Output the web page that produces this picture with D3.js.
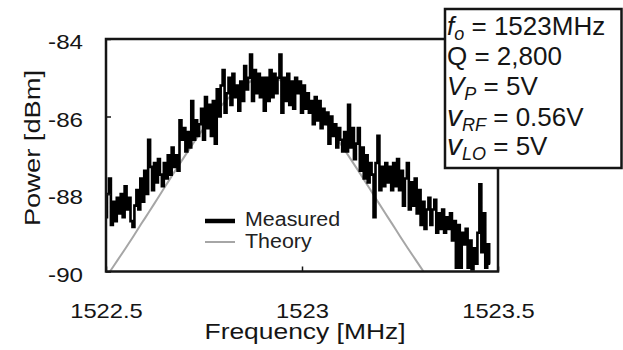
<!DOCTYPE html>
<html>
<head>
<meta charset="utf-8">
<script src="https://cdn.jsdelivr.net/npm/d3@7"></script>
<style>
  html, body { margin: 0; padding: 0; background: #fff; }
  svg { display: block; font-family: "Liberation Sans", Arial, Helvetica, sans-serif; }
</style>
</head>
<body>
<svg id="chart" width="623" height="350"></svg>
<script>
// ---------------- data ----------------
const xTicks = [1522.5, 1523, 1523.5];
const xTickLabels = ["1522.5", "1523", "1523.5"];
const yTicks = [-90, -88, -86, -84];
const yTickLabels = ["-90", "-88", "-86", "-84"];

const measuredStart = 1522.5;   // MHz, first sample
const measuredStep = 0.005;     // MHz between samples
const measuredPower = [
  -88.6, -88.0, -87.6, -88.8, -88.2,
  -88.7, -88.1, -88.5,
  -88.0, -88.6, -87.8, -88.4, -88.1,
  -88.7, -88.85, -88.3,
  -87.9, -88.4, -87.6, -88.2,
  -87.4, -88.0, -86.6, -87.3, -87.9,
  -87.2, -87.7, -87.1, -87.5, -87.8, -87.2, -87.6,
  -87.0, -87.5, -86.8, -87.3, -87.0, -87.4, -86.1,
  -86.6, -86.3, -86.9, -86.4, -86.8, -85.6,
  -86.6, -86.1, -86.5, -86.2,
  -85.8, -86.6, -85.5, -86.3, -85.7,
  -86.5, -85.6, -86.7,
  -85.3, -86.0, -85.2, -84.8, -85.9, -85.4,
  -85.0, -85.7, -84.9, -85.5, -85.2,
  -85.85, -85.1,
  -85.6, -84.7, -85.3, -85.0, -84.4,
  -85.6, -84.8, -85.4, -84.9, -85.5, -85.0,
  -85.85, -85.0,
  -85.6, -84.8, -85.5, -84.9,
  -85.4, -85.0, -84.4,
  -85.9, -85.0, -85.6, -84.9, -85.7, -85.1, -85.8,
  -85.0, -85.4, -85.1,
  -85.9, -85.2, -85.8, -85.4, -85.9,
  -85.6, -86.2, -85.5, -86.1, -85.6, -86.3, -85.8, -86.2, -85.9,
  -86.7, -86.0, -86.5, -86.2, -86.8, -86.3, -86.6,
  -86.9, -86.4, -86.9, -85.7, -86.8, -86.3,
  -87.1, -86.7, -86.3, -87.4, -86.8, -87.6, -87.0, -87.7, -87.2,
  -87.5, -88.6, -87.2, -86.5, -87.9,
  -87.3, -87.8, -87.2, -87.7, -87.3,
  -87.9, -87.2, -87.8, -87.1, -87.9, -87.4,
  -88.3, -87.6, -87.2, -88.4, -87.7, -88.3, -87.6,
  -88.5, -87.9,
  -88.8, -88.2, -88.9, -88.4, -88.1, -88.8,
  -88.4, -88.15, -89.0, -88.5, -88.9, -88.4, -89.0, -88.6, -88.9, -88.5,
  -89.2, -88.7, -89.9, -88.8, -89.9, -89.0, -89.3,
  -88.9, -89.9, -89.2, -89.95, -89.4, -89.8,
  -89.0, -87.75, -89.5, -88.5,
  -89.9, -89.3, -89.8
];

const theoryFreq = [
  1522.51, 1522.53, 1522.55, 1522.57, 1522.59, 1522.61, 1522.63, 1522.65, 1522.67, 1522.69,
  1522.71, 1522.73, 1522.75, 1522.77, 1522.79, 1522.81, 1522.83, 1522.85, 1522.87, 1522.89,
  1522.91, 1522.93, 1522.95, 1522.97, 1522.99, 1523.01, 1523.03, 1523.05, 1523.07, 1523.09,
  1523.11, 1523.13, 1523.15, 1523.17, 1523.19, 1523.21, 1523.23, 1523.25, 1523.27, 1523.29,
  1523.31
];
const theoryPower = [
  -90.00, -89.70, -89.40, -89.09, -88.77, -88.46, -88.14, -87.82, -87.50, -87.19,
  -86.88, -86.58, -86.29, -86.02, -85.77, -85.55, -85.36, -85.21, -85.09, -85.02,
  -85.00, -85.02, -85.09, -85.21, -85.36, -85.55, -85.77, -86.02, -86.29, -86.58,
  -86.88, -87.19, -87.50, -87.82, -88.14, -88.46, -88.77, -89.09, -89.40, -89.70,
  -90.00
];

const legendLabels = ["Measured", "Theory"];
const xLabel = "Frequency [MHz]";
const yLabel = "Power [dBm]";
// annotation lines: [main symbol, subscript, rest]
const annotLines = [
  ["f", "o", " = 1523MHz"],
  ["", "", "Q = 2,800"],
  ["V", "P", " = 5V"],
  ["v", "RF", " = 0.56V"],
  ["v", "LO", " = 5V"]
];

// ---------------- layout ----------------
const svg = d3.select("#chart");
const plotLeft = 106, plotRight = 498, plotTop = 39, plotBottom = 271.5;
const ink = "#151515";

const x = d3.scaleLinear().domain([1522.5, 1523.5]).range([plotLeft, plotRight]);
const y = d3.scaleLinear().domain([-90, -84]).range([plotBottom, plotTop]);

function stretch(sel, k) {
  sel.each(function () {
    const w = this.getComputedTextLength();
    this.setAttribute("textLength", w * k);
    this.setAttribute("lengthAdjust", "spacingAndGlyphs");
  });
}

// series
const measured = measuredPower.map((p, i) => ({ f: measuredStart + i * measuredStep, p }));
const theory = theoryFreq.map((f, i) => ({ f, p: theoryPower[i] }));

svg.append("path")
  .datum(theory)
  .attr("fill", "none")
  .attr("stroke", "#a6a6a6")
  .attr("stroke-width", 2)
  .attr("d", d3.line().x(d => x(d.f)).y(d => y(d.p)).curve(d3.curveMonotoneX));

svg.append("path")
  .datum(measured)
  .attr("fill", "none")
  .attr("stroke", "#000")
  .attr("stroke-width", 2.6)
  .attr("stroke-linejoin", "miter")
  .attr("d", d3.line().x(d => x(d.f)).y(d => y(d.p)).curve(d3.curveStep));

// axes
const yAxis = svg.append("g")
  .attr("transform", `translate(${plotLeft},0)`)
  .call(d3.axisLeft(y).tickValues(yTicks).tickFormat((d, i) => yTickLabels[i])
    .tickSizeInner(-5).tickSizeOuter(0).tickPadding(23));
yAxis.select(".domain").remove();
yAxis.selectAll("line").attr("stroke", ink).attr("stroke-width", 1.5);
yAxis.selectAll("text")
  .attr("font-size", 21).attr("fill", ink)
  .attr("font-family", "'Liberation Sans', Arial, sans-serif")
  .attr("transform", "translate(0,3)")
  .call(stretch, 1.15);

const xAxis = svg.append("g")
  .attr("transform", `translate(0,${plotBottom})`)
  .call(d3.axisBottom(x).tickValues(xTicks).tickFormat((d, i) => xTickLabels[i])
    .tickSizeInner(-5).tickSizeOuter(0).tickPadding(32));
xAxis.select(".domain").remove();
xAxis.selectAll("line").attr("stroke", ink).attr("stroke-width", 1.5);
xAxis.selectAll("text")
  .attr("font-size", 21).attr("fill", ink)
  .attr("font-family", "'Liberation Sans', Arial, sans-serif")
  .call(stretch, 1.13);

// frame
svg.append("rect")
  .attr("x", plotLeft).attr("y", plotTop)
  .attr("width", plotRight - plotLeft).attr("height", plotBottom - plotTop)
  .attr("fill", "none").attr("stroke", ink).attr("stroke-width", 2.5);

// axis labels
svg.append("text")
  .attr("x", 305).attr("y", 338.5)
  .attr("text-anchor", "middle")
  .attr("font-size", 22).attr("fill", ink)
  .text(xLabel)
  .call(stretch, 1.2);

svg.append("text")
  .attr("transform", "translate(40,148) rotate(-90)")
  .attr("text-anchor", "middle")
  .attr("font-size", 22).attr("fill", ink)
  .text(yLabel)
  .call(stretch, 1.24);

// legend
const legend = svg.append("g");
const legendStyles = [
  { stroke: "#000", width: 4.5, ly: 221, ty: 226 },
  { stroke: "#a6a6a6", width: 2, ly: 242, ty: 248 }
];
legendLabels.forEach((lab, i) => {
  const s = legendStyles[i];
  legend.append("line")
    .attr("x1", 205).attr("x2", 235)
    .attr("y1", s.ly).attr("y2", s.ly)
    .attr("stroke", s.stroke).attr("stroke-width", s.width);
  legend.append("text")
    .attr("x", 245).attr("y", s.ty)
    .attr("font-size", 20).attr("fill", "#222")
    .text(lab)
    .call(stretch, 1.07);
});

// annotation box
svg.append("rect")
  .attr("x", 445).attr("y", 9).attr("width", 176.5).attr("height", 159)
  .attr("fill", "#fff").attr("stroke", ink).attr("stroke-width", 2.5);

const baselines = [35, 65, 95, 126, 155];
annotLines.forEach((ln, i) => {
  const t = svg.append("text")
    .attr("x", 447).attr("y", baselines[i])
    .attr("font-size", 26).attr("fill", ink);
  if (ln[0]) {
    t.append("tspan").attr("font-style", "italic")
      .attr("font-size", ln[0] === "v" ? 30 : 26)
      .text(ln[0]);
    t.append("tspan").attr("font-style", "italic").attr("font-size", 18)
      .attr("dy", 5)
      .text(ln[1]);
    t.append("tspan").attr("dy", -5).text(ln[2]);
  } else {
    t.append("tspan").text(ln[2]);
  }
});
</script>
</body>
</html>
